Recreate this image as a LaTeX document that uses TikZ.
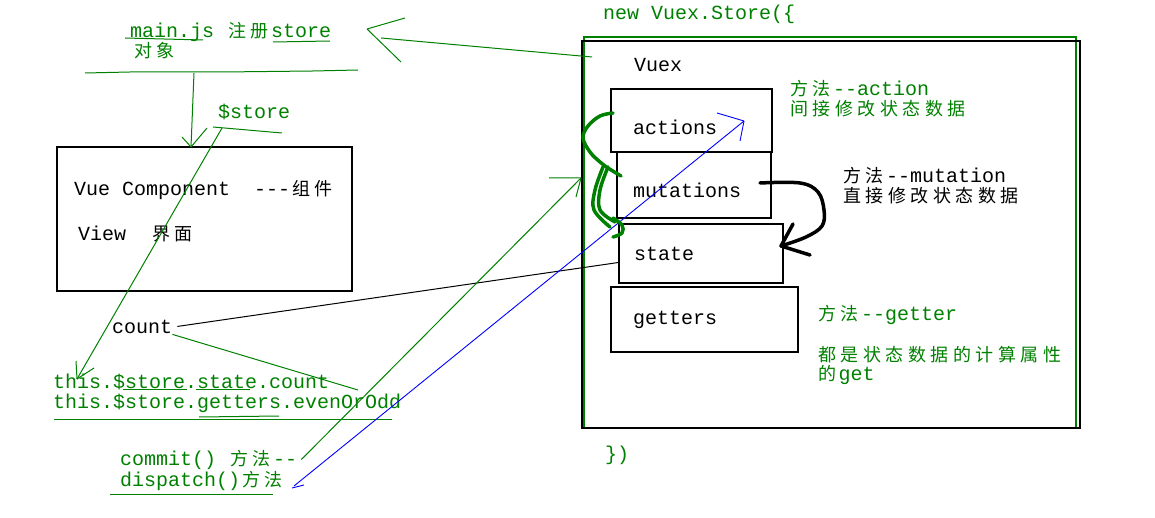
\documentclass[tikz,border=0pt]{standalone}
\usepackage{fontspec}
\setmonofont{Liberation Mono}
\newfontfamily\cjk{Noto Sans CJK SC}
\definecolor{penGreen}{RGB}{0,128,0}
\definecolor{penBlue}{RGB}{0,0,255}
% each CJK glyph in a fixed cell
\newcommand\zh[1]{\zhloop#1\relax}
\def\zhloop#1{\ifx#1\relax\else\makebox[22.5pt]{\cjk\fontsize{18}{18}\selectfont#1}\expandafter\zhloop\fi}

\begin{document}
\begin{tikzpicture}
[x=1pt, y=-1pt,
every node/.style={
  inner sep=0pt, anchor=base west, font=\ttfamily\fontsize{20}{20}\selectfont
},
note/.style={text=penGreen},
module/.style={draw, anchor=center, line width=1.3pt},
pen/.style={penGreen, line width=1pt},
ink/.style={penBlue, line width=0.9pt},
marker/.style={penGreen, line width=3.5pt, line cap=round, line join=round},
hook/.style={black, line width=3.5pt, line cap=round, line join=round}
]
\useasboundingbox (0,0) rectangle (1155,518);

% Vuex store
\node[note] (new store) at (603,20) {new Vuex.Store(\{};
\node[module, penGreen, minimum width=492pt, minimum height=391pt] (store frame) at (830,232.5) {};
\node[module, minimum width=498pt, minimum height=387pt] (vuex box) at (831,234.5) {};
\node (vuex) at (634,72) {Vuex};
\node[note] (store end) at (605,460) {\})};

% modules
\node[module, minimum width=161pt, minimum height=63pt] (actions box) at (691.5,120.5) {};
\node (actions) at (633,135) {actions};
\node[module, minimum width=154pt, minimum height=66pt] (mutations box) at (694,185) {};
\node (mutations) at (633,198) {mutations};
\node[module, minimum width=164pt, minimum height=59pt] (state box) at (701,253.5) {};
\node (state) at (634,261) {state};
\node[module, minimum width=187pt, minimum height=65pt] (getters box) at (704.5,319.5) {};
\node (getters) at (633,324) {getters};

% notes on the modules
\node[note] (action note) at (788,96) {\zh{方法}--action};
\node[note] (action note2) at (788,116) {\zh{间接修改状态数据}};
\node (mutation note) at (841,183) {\zh{方法}--mutation};
\node (mutation note2) at (841,203) {\zh{直接修改状态数据}};
\node[note] (getter note) at (816,320) {\zh{方法}--getter};
\node[note] (getter note2) at (816,361) {\zh{都是状态数据的计算属性}};
\node[note] (getter note3) at (816,380) {\zh{的}get};

% main.js
\node[note] (mainjs) at (130,38) {main.js \zh{注册}store};
\node[note] (mainjs2) at (132,58) {\zh{对象}};
\draw[pen] (125,38) -- (203,40);
\draw[pen] (273,42) -- (330,41);
\draw[pen] (85,73) -- (130,72) -- (222,72) -- (313,71) -- (358,70);
\node[note] (dollar store) at (218,119) {\$store};
\draw[pen] (213,127) -- (282,133);

% Vue component
\node[module, minimum width=295pt, minimum height=144pt] (component box) at (204.5,219) {};
\node (component) at (74,196) {Vue Component~~---\zh{组件}};
\node (view) at (78,241) {View~~\zh{界面}};
\node (count) at (112,333) {count};

% this.$store
\node[note] (state count) at (53,388) {this.\$store.state.count};
\node[note] (getters count) at (53,408) {this.\$store.getters.evenOrOdd};
\draw[pen] (123,389) -- (187,389);
\draw[pen] (196,389) -- (250,389);
\draw[pen] (199,417) -- (279,416);
\draw[pen] (54,419) -- (392,419);

% commit / dispatch
\node[note] (commit) at (120,465) {commit() \zh{方法}--};
\node[note] (dispatch) at (120,486) {dispatch()\zh{方法}};
\draw[pen] (110,494) -- (273,494);

% connectors
\coordinate (store out) at (592,57);
\coordinate (mainjs tip) at (367,29);
\draw[pen] (store out) -- (381,38);
\draw[pen] (mainjs tip) -- ++(38,-11) (mainjs tip) -- ++(34,33);

\coordinate (rule top) at (194,73);
\coordinate (component in) at (191,147);
\draw[pen] (rule top) -- (component in);
\draw[pen] (component in) -- ++(-9,-10) (component in) -- ++(16,-19);

\coordinate (store under) at (222,128);
\coordinate (this tip) at (77,379);
\draw[pen] (store under) -- (this tip);
\draw[pen] (this tip) -- ++(-1,-18) (this tip) -- ++(17,-11);

\draw[black, line width=1pt] ([xshift=5pt]count.east) -- ([yshift=-9pt]state box.west);
\coordinate (count end) at (358,390);
\draw[pen] ([yshift=-1pt]count.south east) -- (count end);

\coordinate (frame in) at (581,178);
\draw[pen] ([xshift=4pt]commit.east) -- (frame in);
\draw[pen] (frame in) -- ++(-32,0) (frame in) -- ++(-5,19);

\coordinate (dispatch tail) at (294,486);
\coordinate (actions in) at (744,121);
\draw[ink] (dispatch tail) -- (actions in);
\draw[ink] (actions in) -- ++(-27,-8) (actions in) -- ++(-4,20);
\draw[ink] (292,488) -- (304,485);

% mutation -> state
\coordinate (mutation out) at (760,183);
\coordinate (state in) at (781,246);
\draw[hook] plot[smooth, tension=0.6] coordinates {(mutation out) (800,183) (818,192) (824,210) (822,226) (806,237) (state in)};
\draw[hook] (state in) -- (793,224) (state in) -- (810,255);

% actions -> mutations -> state
\draw[marker] plot[smooth, tension=0.6] coordinates {(613,113) (600,116) (588,126) (583,138) (590,152) (600,162) (608,168) (621,176)};
\draw[marker] plot[smooth, tension=0.6] coordinates {(603,167) (595,190) (594,210) (610,227)};
\draw[marker] plot[smooth, tension=0.6] coordinates {(608,167) (600,190) (600,210) (615,222)};
\draw[marker] plot[smooth, tension=0.6] coordinates {(613,218) (622,225) (622,233) (613,237)};

\end{tikzpicture}
\end{document}
